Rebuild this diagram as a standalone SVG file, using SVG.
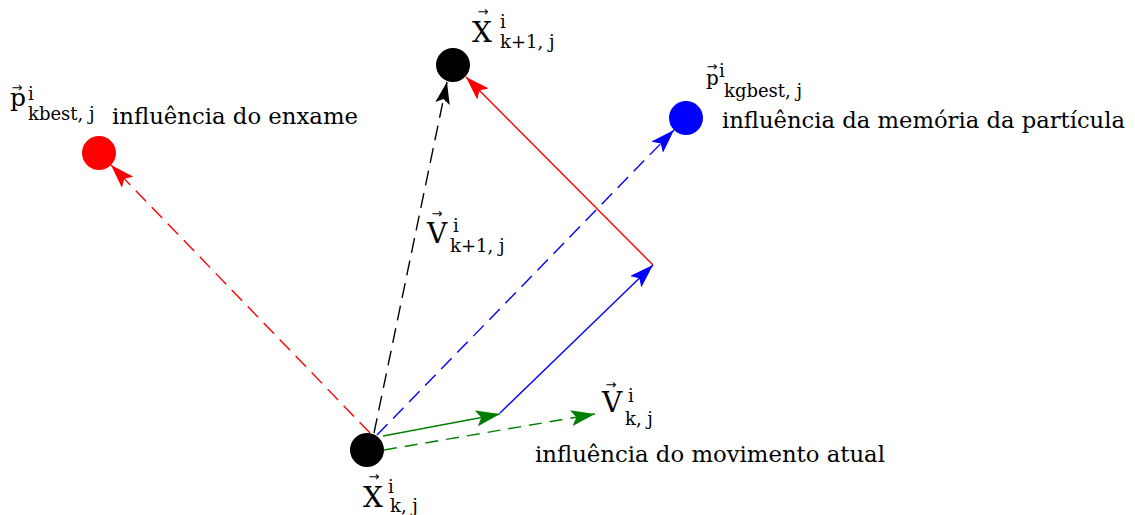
<svg xmlns="http://www.w3.org/2000/svg" width="1135" height="515" viewBox="0 0 1135 515">
<style>
.t{font-family:"DejaVu Serif","Liberation Serif",serif;fill:#000}
.body{font-size:23px}
.big{font-size:28px}
.sm{font-size:18px}
.vec{font-family:"DejaVu Sans","Liberation Sans",sans-serif;font-size:13px;text-anchor:middle;fill:#000}
.ln{fill:none;stroke-width:1.4}
.dash{stroke-dasharray:15 8}
</style>
<defs>
<marker id="ar" viewBox="0 0 24 16" refX="24" refY="8" markerWidth="24" markerHeight="16" markerUnits="userSpaceOnUse" orient="auto"><path d="M0,0 L24,8 L0,16 L5,8 z" fill="#ff0000"/></marker>
<marker id="ab" viewBox="0 0 24 16" refX="24" refY="8" markerWidth="24" markerHeight="16" markerUnits="userSpaceOnUse" orient="auto"><path d="M0,0 L24,8 L0,16 L5,8 z" fill="#0000ff"/></marker>
<marker id="ag" viewBox="0 0 24 16" refX="24" refY="8" markerWidth="24" markerHeight="16" markerUnits="userSpaceOnUse" orient="auto"><path d="M0,0 L24,8 L0,16 L5,8 z" fill="#008000"/></marker>
<marker id="ak" viewBox="0 0 24 16" refX="24" refY="8" markerWidth="22" markerHeight="16" markerUnits="userSpaceOnUse" orient="auto"><path d="M0,0 L24,8 L0,16 L5,8 z" fill="#000"/></marker>
</defs>
<rect width="1135" height="515" fill="#fff"/>
<g id="connectors">
<line class="ln dash" x1="370" y1="433" x2="111" y2="165" stroke="#ff0000" marker-end="url(#ar)"/>
<line class="ln dash" x1="374" y1="433" x2="447" y2="82" stroke="#000" marker-end="url(#ak)"/>
<line class="ln dash" x1="377" y1="435" x2="674" y2="130" stroke="#0000ff" marker-end="url(#ab)"/>
<line class="ln" x1="653" y1="265" x2="466" y2="77" stroke="#ff0000" marker-end="url(#ar)"/>
<line class="ln" x1="500" y1="413" x2="653" y2="265" stroke="#0000ff" marker-end="url(#ab)"/>
<line class="ln" x1="383" y1="436" x2="500" y2="414" stroke="#008000" marker-end="url(#ag)"/>
<line class="ln" x1="384" y1="450" x2="595" y2="414" stroke="#008000" stroke-dasharray="13 8" marker-end="url(#ag)"/>
</g>
<g id="node-xk">
<circle cx="367" cy="450" r="17" fill="#000"/>
<text class="vec" x="374" y="481">→</text>
<text class="t big" x="363" y="507">X</text>
<text class="t sm" x="388" y="493">i</text>
<text class="t sm" x="390" y="512">k, j</text>
</g>
<g id="node-xk1">
<circle cx="453" cy="65" r="17" fill="#000"/>
<text class="vec" x="483" y="16">→</text>
<text class="t big" x="472" y="42">X</text>
<text class="t sm" x="500" y="28">i</text>
<text class="t sm" x="500" y="48">k+1, j</text>
</g>
<g id="node-pkbest">
<circle cx="99" cy="153" r="17" fill="#ff0000"/>
<text class="vec" x="17" y="92">→</text>
<text class="t" style="font-size:25px" x="10" y="106">p</text>
<text class="t sm" x="28" y="100">i</text>
<text class="t sm" x="28" y="120">kbest, j</text>
<text class="t body" x="112" y="124" textLength="246" lengthAdjust="spacingAndGlyphs">influência do enxame</text>
</g>
<g id="node-pkgbest">
<circle cx="686" cy="118" r="17" fill="#0000ff"/>
<text class="vec" x="712" y="71">→</text>
<text class="t" style="font-size:20px" x="706" y="85">p</text>
<text class="t sm" x="719" y="77">i</text>
<text class="t sm" x="724" y="97">kgbest, j</text>
<text class="t body" x="722" y="128" textLength="403" lengthAdjust="spacingAndGlyphs">influência da memória da partícula</text>
</g>
<g id="label-vk1">
<text class="vec" x="437" y="218">→</text>
<text class="t big" x="427" y="243">V</text>
<text class="t sm" x="453" y="232">i</text>
<text class="t sm" x="450" y="252">k+1, j</text>
</g>
<g id="label-vk">
<text class="vec" x="611" y="389">→</text>
<text class="t big" x="602" y="412">V</text>
<text class="t sm" x="628" y="402">i</text>
<text class="t sm" x="625" y="425">k, j</text>
<text class="t body" x="535" y="462" textLength="350" lengthAdjust="spacingAndGlyphs">influência do movimento atual</text>
</g>
</svg>
